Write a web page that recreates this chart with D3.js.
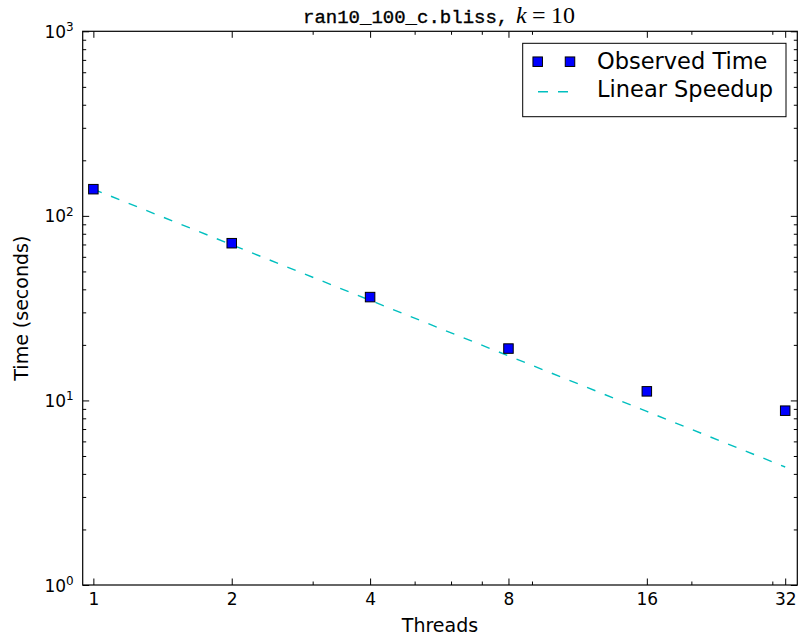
<!DOCTYPE html>
<html>
<head>
<meta charset="utf-8">
<script src="https://cdn.jsdelivr.net/npm/d3@7"></script>
<style>
  body { margin: 0; background: #fff; }
  text { font-family: "DejaVu Sans", sans-serif; fill: #000; }
</style>
</head>
<body>
<svg id="chart"></svg>
<script>
// data
const threads = [1, 2, 4, 8, 16, 32];
const observedTime = [139.5, 71.1, 36.3, 19.1, 11.2, 8.8];
const xTickValues = [1, 2, 4, 8, 16, 32];
const xMinorValues = [3, 5, 6, 7, 9, 20, 30];
const yTickValues = [1, 10, 100, 1000];
const yTickExponents = ['0', '1', '2', '3'];
const legendLabels = ['Observed Time', 'Linear Speedup'];

// linear speedup derived from the single-thread time
const linearSpeedup = threads.map(t => observedTime[0] / t);

const width = 803, height = 642;
const margin = { top: 31.3, right: 5.7, bottom: 57, left: 82.7 };
const innerWidth = width - margin.left - margin.right;
const innerHeight = height - margin.top - margin.bottom;

const svg = d3.select('#chart')
  .attr('width', width)
  .attr('height', height);

const x = d3.scaleLog().base(2)
  .domain([0.948, 34])
  .range([0, innerWidth]);

const y = d3.scaleLog()
  .domain([1, 1000])
  .range([innerHeight, 0]);

const yMinorValues = [];
[1, 10, 100].forEach(d => { for (let i = 2; i <= 9; i++) yMinorValues.push(d * i); });

const g = svg.append('g')
  .attr('transform', `translate(${margin.left},${margin.top})`);

// tick marks only (inward on all sides), no labels
const minorLen = 3.5, majorLen = 6.5;
function ticksOnly(axis, transform) {
  const a = g.append('g').attr('class', 'ticks-only');
  if (transform) a.attr('transform', transform);
  a.call(axis.tickFormat(''));
  a.selectAll('.tick text').remove();
  return a;
}
ticksOnly(d3.axisBottom(x).tickValues(xMinorValues).tickSize(-minorLen), `translate(0,${innerHeight})`);
ticksOnly(d3.axisTop(x).tickValues(xMinorValues).tickSize(-minorLen));
ticksOnly(d3.axisLeft(y).tickValues(yMinorValues).tickSize(-minorLen));
ticksOnly(d3.axisRight(y).tickValues(yMinorValues).tickSize(-minorLen), `translate(${innerWidth},0)`);
ticksOnly(d3.axisTop(x).tickValues(xTickValues).tickSize(-majorLen));
ticksOnly(d3.axisRight(y).tickValues(yTickValues).tickSize(-majorLen), `translate(${innerWidth},0)`);

// labelled major axes
const xAxis = g.append('g')
  .attr('transform', `translate(0,${innerHeight})`)
  .call(d3.axisBottom(x).tickValues(xTickValues).tickSize(-majorLen).tickPadding(8)
    .tickFormat(d3.format('d')))
  .attr('font-family', '"DejaVu Sans", sans-serif')
  .attr('font-size', 17);

const yAxis = g.append('g')
  .call(d3.axisLeft(y).tickValues(yTickValues).tickSize(-majorLen).tickPadding(9)
    .tickFormat(''))
  .attr('font-family', '"DejaVu Sans", sans-serif')
  .attr('font-size', 17);

g.selectAll('.domain').remove();
g.selectAll('.tick line').attr('stroke', '#000').attr('stroke-width', 1);

// power-of-ten labels with superscripts
yAxis.selectAll('.tick text')
  .attr('dy', '0.36em')
  .each(function(d, i) {
    const t = d3.select(this);
    t.append('tspan').text('10');
    t.append('tspan')
      .attr('dy', '-0.55em')
      .attr('font-size', 12)
      .text(yTickExponents[i]);
  });

// frame
g.append('rect')
  .attr('width', innerWidth)
  .attr('height', innerHeight)
  .attr('fill', 'none')
  .attr('stroke', '#000')
  .attr('stroke-width', 1.2);

// linear speedup line
const line = d3.line()
  .x((d, i) => x(threads[i]))
  .y(d => y(d));

g.append('path')
  .datum(linearSpeedup)
  .attr('d', line)
  .attr('fill', 'none')
  .attr('stroke', '#00bfbf')
  .attr('stroke-width', 1.4)
  .attr('stroke-dasharray', '9,10');

// observed points
const size = 9.5;
g.selectAll('rect.point')
  .data(observedTime)
  .enter()
  .append('rect')
  .attr('class', 'point')
  .attr('x', (d, i) => x(threads[i]) - size / 2)
  .attr('y', d => y(d) - size / 2)
  .attr('width', size)
  .attr('height', size)
  .attr('fill', '#0000ff')
  .attr('stroke', '#000')
  .attr('stroke-width', 1);

// axis labels
svg.append('text')
  .attr('x', margin.left + innerWidth / 2)
  .attr('y', 632)
  .attr('text-anchor', 'middle')
  .style('font-size', '19px')
  .text('Threads');

svg.append('text')
  .attr('transform', `translate(28,${margin.top + innerHeight / 2}) rotate(-90)`)
  .attr('text-anchor', 'middle')
  .style('font-size', '19px')
  .text('Time (seconds)');

// title
const title = svg.append('text')
  .attr('x', 303)
  .attr('y', 23);
title.append('tspan')
  .style('font-family', '"Liberation Mono", monospace')
  .style('font-size', '19px')
  .style('stroke', '#000')
  .style('stroke-width', 0.35)
  .text('ran10_100_c.bliss,');
title.append('tspan')
  .attr('x', 516)
  .style('font-family', '"Liberation Serif", serif')
  .style('font-style', 'italic')
  .style('font-size', '24px')
  .text('k');
title.append('tspan')
  .attr('x', 532)
  .style('font-family', '"Liberation Serif", serif')
  .style('font-size', '24px')
  .text('=');
title.append('tspan')
  .attr('x', 551)
  .style('font-family', '"Liberation Serif", serif')
  .style('font-size', '24px')
  .text('10');

// legend
const legend = svg.append('g');
legend.append('rect')
  .attr('x', 522.7)
  .attr('y', 43.3)
  .attr('width', 263.3)
  .attr('height', 73.4)
  .attr('fill', '#fff')
  .attr('stroke', '#000')
  .attr('stroke-width', 1);

legend.selectAll('rect.lm')
  .data([537.7, 570])
  .enter()
  .append('rect')
  .attr('class', 'lm')
  .attr('x', d => d - size / 2)
  .attr('y', 61.7 - size / 2)
  .attr('width', size)
  .attr('height', size)
  .attr('fill', '#0000ff')
  .attr('stroke', '#000');

legend.append('line')
  .attr('x1', 538).attr('x2', 568)
  .attr('y1', 91.7).attr('y2', 91.7)
  .attr('stroke', '#00bfbf')
  .attr('stroke-width', 1.4)
  .attr('stroke-dasharray', '10,10');

legend.selectAll('text')
  .data(legendLabels)
  .enter()
  .append('text')
  .attr('x', 597)
  .attr('y', (d, i) => i === 0 ? 69.3 : 97.3)
  .style('font-size', '22.5px')
  .text(d => d);
</script>
</body>
</html>
